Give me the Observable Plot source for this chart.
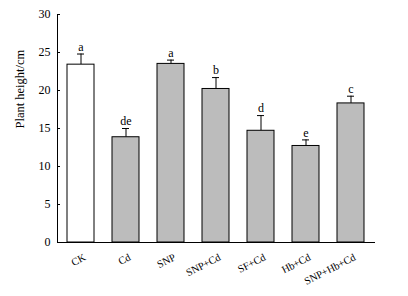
<!DOCTYPE html>
<html><head><meta charset="utf-8">
<script src="https://cdn.jsdelivr.net/npm/d3@7"></script>
<script src="https://cdn.jsdelivr.net/npm/@observablehq/plot@0.6"></script>
<style>body{margin:0;background:#fff}</style>
</head><body><div id="chart"></div>
<script>
const categories = ["CK","Cd","SNP","SNP+Cd","SF+Cd","Hb+Cd","SNP+Hb+Cd"];
const heights = [23.4, 13.85, 23.5, 20.2, 14.7, 12.7, 18.3];
const errors = [1.4, 1.15, 0.5, 1.5, 2.0, 0.8, 0.95];
const letters = ["a","de","a","b","d","e","c"];
const fills = ["#ffffff","#bcbcbc","#bcbcbc","#bcbcbc","#bcbcbc","#bcbcbc","#bcbcbc"];
const yTicks = [0,5,10,15,20,25,30];

const data = categories.map((c,i)=>({c, v: heights[i], e: errors[i], top: heights[i]+errors[i], l: letters[i], f: fills[i]}));

const FONT = "Liberation Serif";
const chart = Plot.plot({
  width: 408, height: 296,
  marginLeft: 57, marginRight: 34, marginTop: 14, marginBottom: 54,
  style: {fontFamily: FONT, fontSize: "12px", color: "#000", background: "#fff"},
  x: {domain: categories, paddingInner: 0.4, paddingOuter: 0.2, label: null},
  y: {domain: [0,30], label: null, ticks: yTicks, tickSize: -3, tickPadding: 10},
  marks: [
    Plot.ruleX(data, {x: "c", y1: "v", y2: "top", stroke: "#000", strokeWidth: 1}),
    Plot.tickY(data, {x: "c", y: "top", stroke: "#000", strokeWidth: 1, insetLeft: 10, insetRight: 10}),
    Plot.barY(data, {x: "c", y: "v", fill: "f", stroke: "#000", strokeWidth: 1}),
    Plot.text(data, {x: "c", y: "top", text: "l", dy: -7, fontSize: 12, fill: "#000"}),
    Plot.axisX({tickSize: 0, tickRotate: -27, tickPadding: 14, dx: 4, fontSize: 10.5, label: null}),
    Plot.frame({anchor: "left", stroke: "#000"}),
    Plot.frame({anchor: "bottom", stroke: "#000"}),
    Plot.text(["Plant height/cm"], {frameAnchor: "left", dx: -38, rotate: -90, fontSize: 12.5, fill: "#000"})
  ]
});
document.getElementById("chart").append(chart);
</script></body></html>
